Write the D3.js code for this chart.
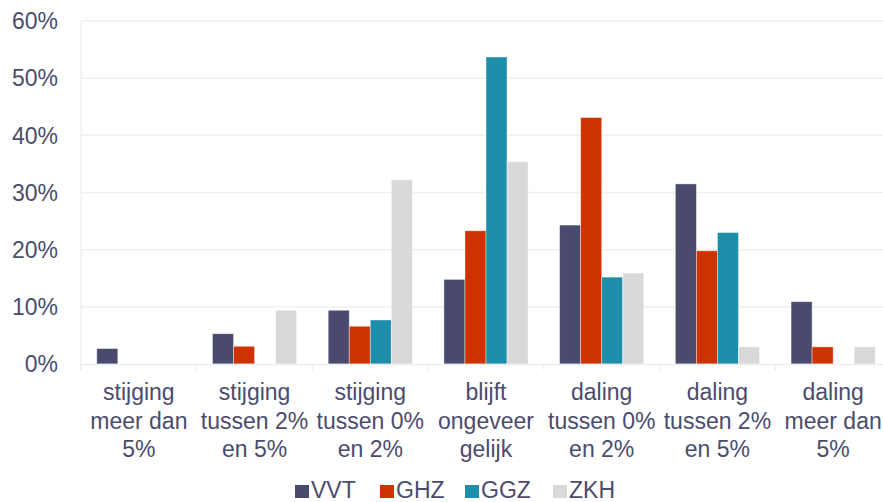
<!DOCTYPE html>
<html>
<head>
<meta charset="utf-8">
<script src="https://cdn.jsdelivr.net/npm/d3@7"></script>
<style>
  body { margin: 0; background: #fff; }
  text { font-family: "Liberation Sans", Arial, sans-serif; fill: #4b4b6e; }
</style>
</head>
<body>
<div class="chart"></div>
<script>
// Chart data
const categories = [
  'stijging meer dan 5%',
  'stijging tussen 2% en 5%',
  'stijging tussen 0% en 2%',
  'blijft ongeveer gelijk',
  'daling tussen 0% en 2%',
  'daling tussen 2% en 5%',
  'daling meer dan 5%'
]
const categoryLines = [
  ['stijging', 'meer dan', '5%'],
  ['stijging', 'tussen 2%', 'en 5%'],
  ['stijging', 'tussen 0%', 'en 2%'],
  ['blijft', 'ongeveer', 'gelijk'],
  ['daling', 'tussen 0%', 'en 2%'],
  ['daling', 'tussen 2%', 'en 5%'],
  ['daling', 'meer dan', '5%']
]
const seriesNames = ['VVT', 'GHZ', 'GGZ', 'ZKH']
const vvt = [2.7, 5.3, 9.4, 14.8, 24.3, 31.5, 10.9]
const ghz = [0, 3.1, 6.6, 23.3, 43.1, 19.8, 3.0]
const ggz = [0, 0, 7.7, 53.7, 15.2, 23.0, 0]
const zkh = [0, 9.4, 32.2, 35.4, 15.9, 3.0, 3.0]
const yTicks = [0, 10, 20, 30, 40, 50, 60]

const colors = ['#4a4a6e', '#cc3300', '#1f8eab', '#d9d9d9']
const seriesValues = [vvt, ghz, ggz, zkh]

// Set up the canvas
const width = 883
const height = 502
const plot = {left: 81, right: 891, top: 21, bottom: 364}

const svg = d3.select('.chart')
  .append('svg')
  .attr('width', width)
  .attr('height', height)

const x0 = d3.scaleBand()
  .domain(categories)
  .range([plot.left, plot.right])
  .padding(0)

const x1 = d3.scaleBand()
  .domain(seriesNames)
  .range([0, x0.bandwidth()])
  .paddingInner(0)
  .paddingOuter(0.75)

const y = d3.scaleLinear()
  .domain([0, 60])
  .range([plot.bottom, plot.top])

// gridlines
svg.append('g')
  .selectAll('line')
  .data(yTicks.slice(1))
  .enter()
  .append('line')
  .attr('x1', plot.left)
  .attr('x2', width)
  .attr('y1', d => y(d))
  .attr('y2', d => y(d))
  .attr('stroke', '#f0f0f0')
  .attr('stroke-width', 1.5)

// y axis labels
svg.append('g')
  .selectAll('text')
  .data(yTicks)
  .enter()
  .append('text')
  .attr('x', 58)
  .attr('y', d => y(d))
  .attr('dy', '0.36em')
  .attr('text-anchor', 'end')
  .style('font-size', '23px')
  .text(d => d + '%')

// left axis line
svg.append('line')
  .attr('x1', plot.left).attr('x2', plot.left)
  .attr('y1', plot.top).attr('y2', plot.bottom + 6)
  .attr('stroke', '#f0f0f0')
  .attr('stroke-width', 1.5)

// bars
const groups = svg.append('g')
  .selectAll('g')
  .data(categories)
  .enter()
  .append('g')
  .attr('transform', d => 'translate(' + x0(d) + ',0)')

groups.selectAll('rect')
  .data((d, i) => seriesNames
    .map((s, j) => ({ s: s, v: seriesValues[j][i], c: colors[j] }))
    .filter(b => b.v > 0))
  .enter()
  .append('rect')
  .attr('x', d => x1(d.s))
  .attr('y', d => y(d.v))
  .attr('width', x1.bandwidth())
  .attr('height', d => y(0) - y(d.v))
  .attr('fill', d => d.c)
  .attr('stroke', 'rgba(255,255,255,0.5)')
  .attr('stroke-width', 0.8)

// x axis line + ticks
svg.append('line')
  .attr('x1', plot.left).attr('x2', width)
  .attr('y1', plot.bottom + 0.5).attr('y2', plot.bottom + 0.5)
  .attr('stroke', '#eeeeee')
  .attr('stroke-width', 1.5)

svg.append('g')
  .selectAll('line')
  .data(categories)
  .enter()
  .append('line')
  .attr('x1', d => x0(d))
  .attr('x2', d => x0(d))
  .attr('y1', plot.bottom)
  .attr('y2', plot.bottom + 6)
  .attr('stroke', '#eeeeee')
  .attr('stroke-width', 1.5)

// x labels
const xLabels = svg.append('g')
  .selectAll('text')
  .data(categories)
  .enter()
  .append('text')
  .attr('text-anchor', 'middle')
  .style('font-size', '23px')

xLabels.selectAll('tspan')
  .data((d, i) => categoryLines[i].map(l => ({ l: l, cx: x0(d) + x0.bandwidth() / 2 })))
  .enter()
  .append('tspan')
  .attr('x', d => d.cx)
  .attr('y', (d, k) => 400 + k * 28.5)
  .text(d => d.l)

// legend
const legendX = [295, 380, 465, 553]
const legend = svg.append('g')
  .selectAll('g')
  .data(seriesNames)
  .enter()
  .append('g')
  .attr('transform', (d, i) => 'translate(' + legendX[i] + ',0)')

legend.append('rect')
  .attr('x', 0)
  .attr('y', 485)
  .attr('width', 14)
  .attr('height', 13)
  .attr('fill', (d, i) => colors[i])

legend.append('text')
  .attr('x', 16)
  .attr('y', 498)
  .style('font-size', '23px')
  .text(d => d)
</script>
</body>
</html>
